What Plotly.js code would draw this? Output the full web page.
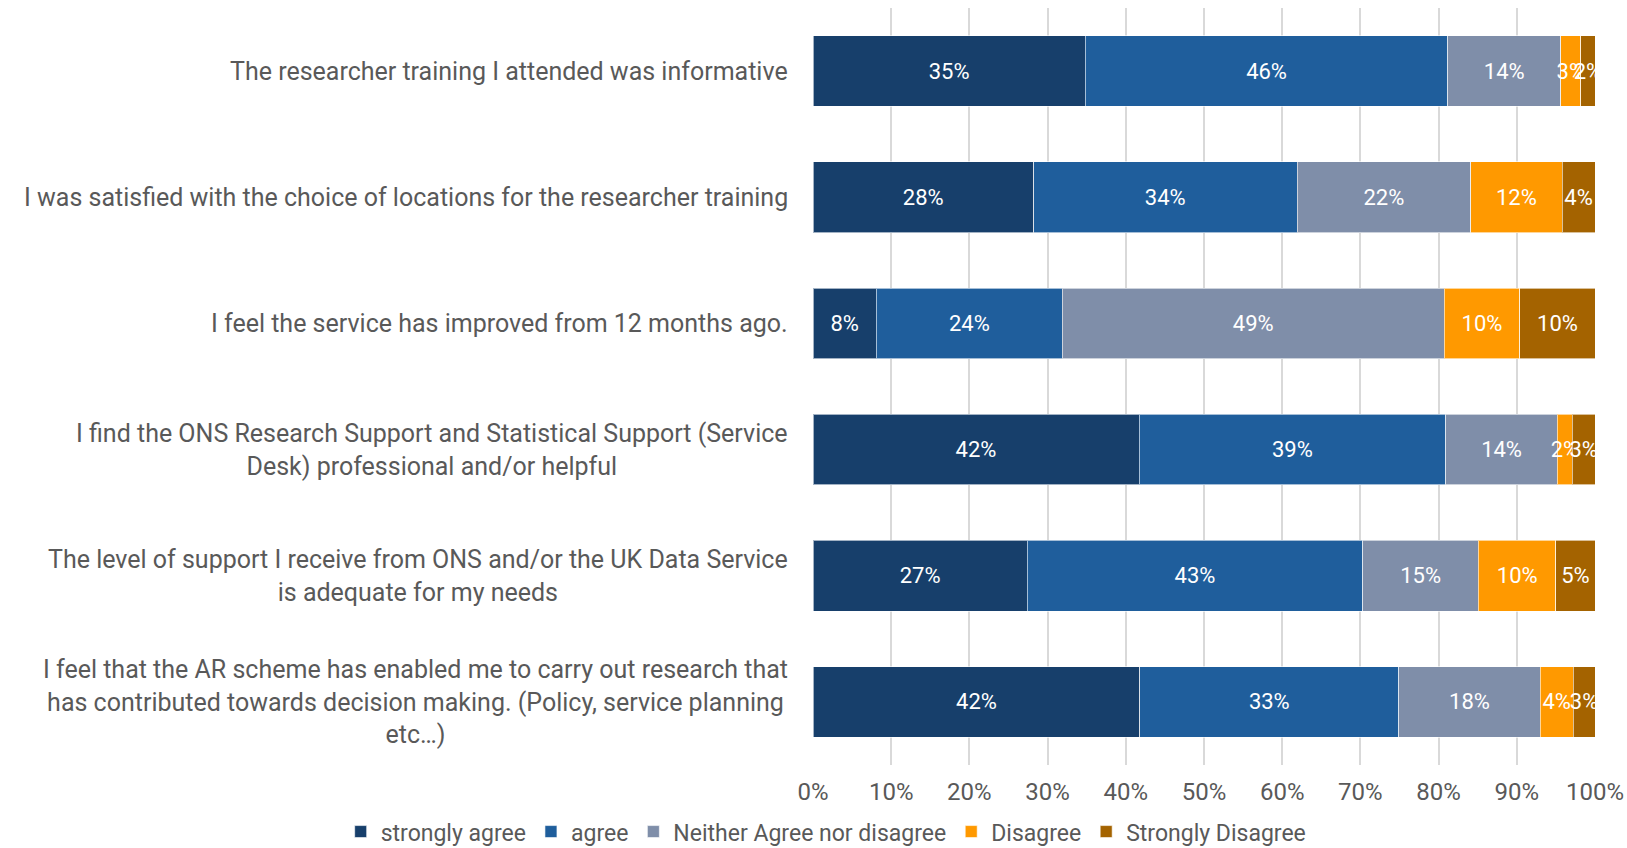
<!DOCTYPE html>
<html><head><meta charset="utf-8">
<script src="https://cdn.plot.ly/plotly-3.0.1.min.js"></script>
<style>html,body{margin:0;padding:0;background:#fff;}#chart{width:1627px;height:848px;}</style>
</head><body><div id="chart"></div>
<script>
const categories = [
  "The researcher training I attended was informative",
  "I was satisfied with the choice of locations for the researcher training",
  "I feel the service has improved from 12 months ago.",
  "I find the ONS Research Support and Statistical Support (Service<br>Desk) professional and/or helpful",
  "The level of support I receive from ONS and/or the UK Data Service<br>is adequate for my needs",
  "I feel that the AR scheme has enabled me to carry out research that<br>has contributed towards decision making. (Policy, service planning<br>etc…)"
];
const seriesNames = ["strongly agree", "agree", "Neither Agree nor disagree", "Disagree", "Strongly Disagree"];
const stronglyAgree = [34.8, 28.2, 8.1, 41.7, 27.4, 41.8];
const agree         = [46.4, 33.7, 23.8, 39.2, 42.9, 33.1];
const neither       = [14.4, 22.2, 48.8, 14.3, 14.8, 18.1];
const disagree      = [2.6, 11.7, 9.7, 1.9, 9.9, 4.2];
const stronglyDis   = [1.8, 4.2, 9.6, 2.9, 5.0, 2.8];
const tickVals = [0, 10, 20, 30, 40, 50, 60, 70, 80, 90, 100];
const tickText = ["0%", "10%", "20%", "30%", "40%", "50%", "60%", "70%", "80%", "90%", "100%"];

const colors = ["#173F6B", "#1F5E9C", "#7F8EA9", "#FF9900", "#A46300"];
const FONT = "Roboto, 'Noto Sans', sans-serif";
const values = [stronglyAgree, agree, neither, disagree, stronglyDis];

const traces = values.map((v, i) => ({
  type: "bar",
  orientation: "h",
  name: seriesNames[i],
  y: categories,
  x: v,
  marker: {color: colors[i], line: {color: "rgba(255,255,255,0.6)", width: 1}},
  texttemplate: "%{x:.0f}%",
  textposition: "inside",
  insidetextanchor: "middle",
  textangle: 0,
  constraintext: "none",
  textfont: {color: "#ffffff", size: 22, family: FONT},
  hoverinfo: "x+name"
}));

const annotations = categories.map(c => ({
  xref: "paper", yref: "y", x: -0.03, y: c,
  xanchor: "right", yanchor: "middle", align: "center",
  text: c, showarrow: false,
  font: {family: FONT, size: 25, color: "#595959"}
}));

const layout = {
  width: 1627, height: 848,
  barmode: "stack",
  bargap: 0.44,
  margin: {l: 813, r: 32, t: 8, b: 83, autoexpand: false},
  paper_bgcolor: "#ffffff", plot_bgcolor: "#ffffff",
  font: {family: FONT, color: "#595959"},
  xaxis: {
    range: [0, 100], tickvals: tickVals, ticktext: tickText,
    showgrid: true, gridcolor: "#D9D9D9", gridwidth: 2,
    zeroline: false, showline: false,
    tickfont: {size: 24, color: "#595959", family: FONT},
    ticks: "", ticklen: 0, ticklabelstandoff: 10
  },
  yaxis: {
    autorange: "reversed", showticklabels: false, showgrid: false, zeroline: false, ticks: ""
  },
  legend: {
    orientation: "h",
    x: -0.604, xanchor: "left", y: -0.088, yanchor: "middle",
    font: {size: 23, color: "#595959", family: FONT},
    traceorder: "normal", itemwidth: 30
  },
  annotations: annotations,
  showlegend: true
};

Plotly.newPlot("chart", traces, layout, {displayModeBar: false});
</script></body></html>
